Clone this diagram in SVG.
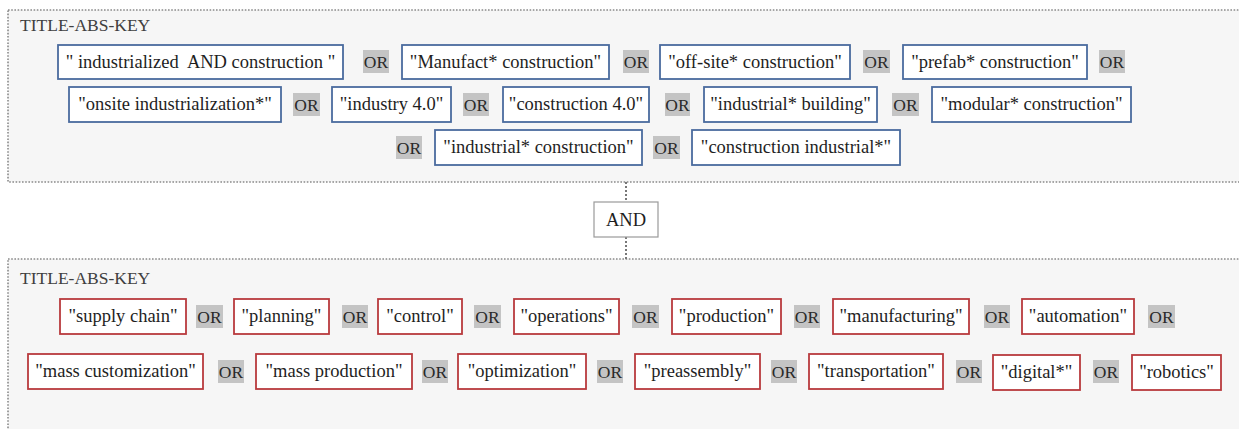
<svg xmlns="http://www.w3.org/2000/svg" width="1239" height="429" viewBox="0 0 1239 429" font-family="'Liberation Serif', 'Times New Roman', 'DejaVu Serif', serif">
<style>
.panel{fill:#f6f6f6;stroke:#8a8a8a;stroke-width:1.6;stroke-dasharray:1.6 1.6}
.title{font-size:17.5px;fill:#404040}
.b{fill:#ffffff;stroke:#4a6b9e;stroke-width:1.8}
.r{fill:#ffffff;stroke:#b83a3d;stroke-width:1.8}
.t{font-size:18.5px;fill:#1e1e1e;text-anchor:middle}
.orb{fill:#c4c4c4}
.or{font-size:17.5px;fill:#2a2a2a;text-anchor:middle}
.conn{stroke:#777;stroke-width:2;stroke-dasharray:2 2;fill:none}
.andb{fill:#ffffff;stroke:#9a9a9a;stroke-width:1.2}
</style>
<g id="panel-top">
<rect class="panel" x="8" y="10" width="1245" height="172"/>
<text class="title" x="20" y="31">TITLE-ABS-KEY</text>
</g>
<g id="panel-bottom">
<rect class="panel" x="8" y="259" width="1245" height="190"/>
<text class="title" x="20" y="284">TITLE-ABS-KEY</text>
</g>
<g id="connectors">
<line class="conn" x1="626" y1="182" x2="626" y2="202"/>
<line class="conn" x1="626" y1="237" x2="626" y2="259"/>
</g>
<g id="and-node">
<rect class="andb" x="594" y="202" width="64" height="35"/>
<text class="t" x="626" y="226">AND</text>
</g>
<g id="top-terms">
<g id="t1"><rect class="b" x="58" y="45" width="285" height="34"/><text class="t" x="200.5" y="68" xml:space="preserve">" industrialized  AND construction "</text></g>
<g id="t1o"><rect class="orb" x="363" y="50" width="26" height="23"/><text class="or" x="376" y="68">OR</text></g>
<g id="t2"><rect class="b" x="402" y="45" width="207" height="34"/><text class="t" x="505.5" y="68">"Manufact* construction"</text></g>
<g id="t2o"><rect class="orb" x="623" y="50" width="26" height="23"/><text class="or" x="636" y="68">OR</text></g>
<g id="t3"><rect class="b" x="660" y="45" width="190" height="34"/><text class="t" x="755" y="68">"off-site* construction"</text></g>
<g id="t3o"><rect class="orb" x="863" y="50" width="27" height="23"/><text class="or" x="876.5" y="68">OR</text></g>
<g id="t4"><rect class="b" x="903" y="45" width="184" height="34"/><text class="t" x="995" y="68">"prefab* construction"</text></g>
<g id="t4o"><rect class="orb" x="1099" y="50" width="26" height="23"/><text class="or" x="1112" y="68">OR</text></g>
<g id="t5"><rect class="b" x="69" y="87" width="212" height="35"/><text class="t" x="175" y="110">"onsite industrialization*"</text></g>
<g id="t5o"><rect class="orb" x="293" y="93" width="27" height="23"/><text class="or" x="306.5" y="111">OR</text></g>
<g id="t6"><rect class="b" x="332" y="87" width="119" height="35"/><text class="t" x="391.5" y="110">"industry 4.0"</text></g>
<g id="t6o"><rect class="orb" x="463" y="93" width="26" height="23"/><text class="or" x="476" y="111">OR</text></g>
<g id="t7"><rect class="b" x="503" y="87" width="146" height="35"/><text class="t" x="576" y="110">"construction 4.0"</text></g>
<g id="t7o"><rect class="orb" x="665" y="93" width="25" height="23"/><text class="or" x="677.5" y="111">OR</text></g>
<g id="t8"><rect class="b" x="704" y="87" width="173" height="35"/><text class="t" x="790.5" y="110">"industrial* building"</text></g>
<g id="t8o"><rect class="orb" x="892" y="93" width="27" height="23"/><text class="or" x="905.5" y="111">OR</text></g>
<g id="t9"><rect class="b" x="932" y="87" width="199" height="35"/><text class="t" x="1031.5" y="110">"modular* construction"</text></g>
<g id="t10o"><rect class="orb" x="396" y="136" width="26" height="23"/><text class="or" x="409" y="154">OR</text></g>
<g id="t10"><rect class="b" x="435" y="130" width="207" height="35"/><text class="t" x="538.5" y="153">"industrial* construction"</text></g>
<g id="t11o"><rect class="orb" x="653" y="136" width="27" height="23"/><text class="or" x="666.5" y="154">OR</text></g>
<g id="t11"><rect class="b" x="692" y="130" width="208" height="35"/><text class="t" x="796" y="153">"construction industrial*"</text></g>
</g>
<g id="bottom-terms">
<g id="s1"><rect class="r" x="60" y="299" width="126" height="35"/><text class="t" x="123" y="322">"supply chain"</text></g>
<g id="s1o"><rect class="orb" x="196" y="305" width="27" height="23"/><text class="or" x="209.5" y="323">OR</text></g>
<g id="s2"><rect class="r" x="234" y="299" width="95" height="35"/><text class="t" x="281.5" y="322">"planning"</text></g>
<g id="s2o"><rect class="orb" x="342" y="305" width="26" height="23"/><text class="or" x="355" y="323">OR</text></g>
<g id="s3"><rect class="r" x="378" y="299" width="84" height="35"/><text class="t" x="420" y="322">"control"</text></g>
<g id="s3o"><rect class="orb" x="474" y="305" width="27" height="23"/><text class="or" x="487.5" y="323">OR</text></g>
<g id="s4"><rect class="r" x="514" y="299" width="105" height="35"/><text class="t" x="566.5" y="322">"operations"</text></g>
<g id="s4o"><rect class="orb" x="632" y="305" width="27" height="23"/><text class="or" x="645.5" y="323">OR</text></g>
<g id="s5"><rect class="r" x="672" y="299" width="109" height="35"/><text class="t" x="726.5" y="322">"production"</text></g>
<g id="s5o"><rect class="orb" x="794" y="305" width="26" height="23"/><text class="or" x="807" y="323">OR</text></g>
<g id="s6"><rect class="r" x="833" y="299" width="136" height="35"/><text class="t" x="901" y="322">"manufacturing"</text></g>
<g id="s6o"><rect class="orb" x="984" y="305" width="26" height="23"/><text class="or" x="997" y="323">OR</text></g>
<g id="s7"><rect class="r" x="1022" y="299" width="112" height="35"/><text class="t" x="1078" y="322">"automation"</text></g>
<g id="s7o"><rect class="orb" x="1148" y="305" width="27" height="23"/><text class="or" x="1161.5" y="323">OR</text></g>
<g id="s8"><rect class="r" x="28" y="354" width="175" height="35"/><text class="t" x="115.5" y="377">"mass customization"</text></g>
<g id="s8o"><rect class="orb" x="218" y="360" width="26" height="23"/><text class="or" x="231" y="378">OR</text></g>
<g id="s9"><rect class="r" x="256" y="354" width="156" height="35"/><text class="t" x="334" y="377">"mass production"</text></g>
<g id="s9o"><rect class="orb" x="422" y="360" width="26" height="23"/><text class="or" x="435" y="378">OR</text></g>
<g id="s10"><rect class="r" x="458" y="354" width="128" height="35"/><text class="t" x="522" y="377">"optimization"</text></g>
<g id="s10o"><rect class="orb" x="597" y="360" width="26" height="23"/><text class="or" x="610" y="378">OR</text></g>
<g id="s11"><rect class="r" x="635" y="354" width="125" height="35"/><text class="t" x="697.5" y="377">"preassembly"</text></g>
<g id="s11o"><rect class="orb" x="771" y="360" width="26" height="23"/><text class="or" x="784" y="378">OR</text></g>
<g id="s12"><rect class="r" x="809" y="354" width="134" height="35"/><text class="t" x="876" y="377">"transportation"</text></g>
<g id="s12o"><rect class="orb" x="956" y="360" width="26" height="23"/><text class="or" x="969" y="378">OR</text></g>
<g id="s13"><rect class="r" x="993" y="355" width="87" height="35"/><text class="t" x="1036.5" y="378">"digital*"</text></g>
<g id="s13o"><rect class="orb" x="1093" y="360" width="26" height="23"/><text class="or" x="1106" y="378">OR</text></g>
<g id="s14"><rect class="r" x="1132" y="355" width="89" height="35"/><text class="t" x="1176.5" y="378">"robotics"</text></g>
</g>
</svg>
